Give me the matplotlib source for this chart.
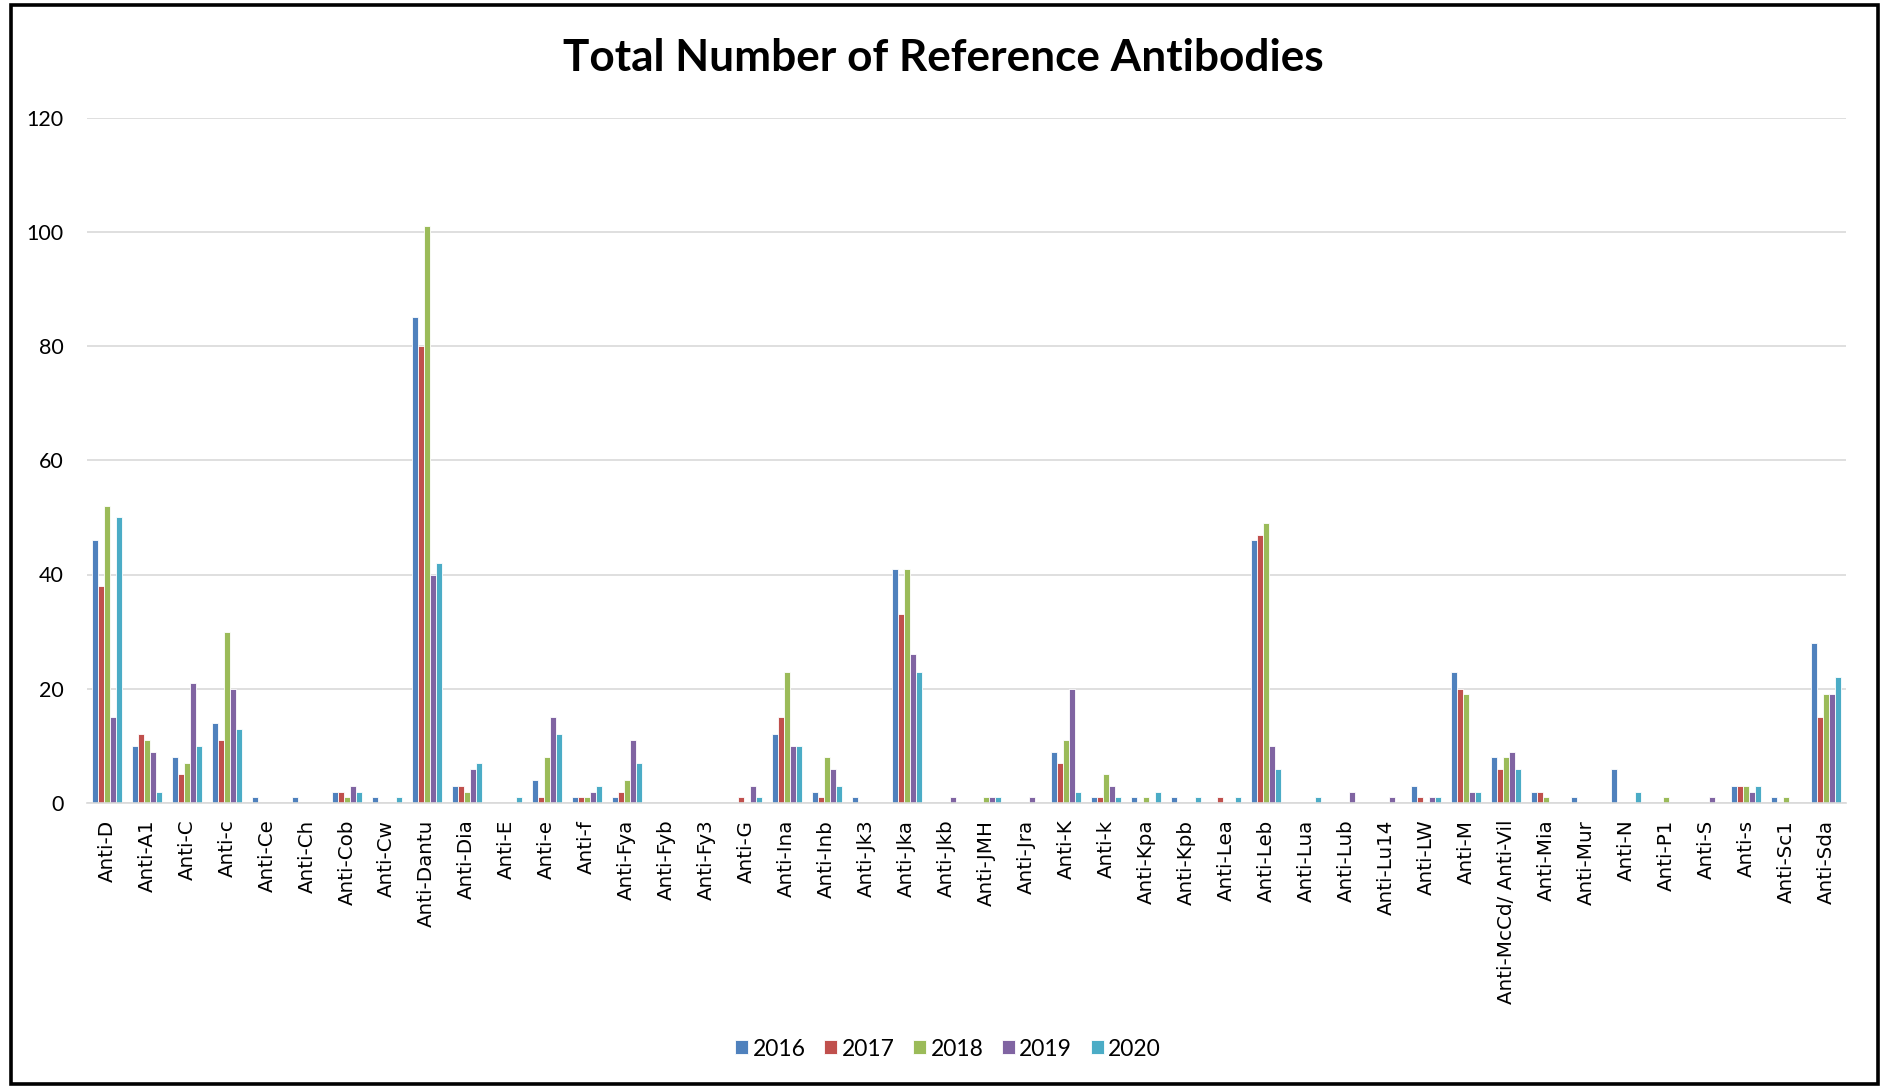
import numpy as np
import matplotlib
matplotlib.use("Agg")
import matplotlib.pyplot as plt
from matplotlib.patches import Rectangle

categories = [
    "Anti-D", "Anti-A1", "Anti-C", "Anti-c", "Anti-Ce", "Anti-Ch", "Anti-Cob",
    "Anti-Cw", "Anti-Dantu", "Anti-Dia", "Anti-E", "Anti-e", "Anti-f", "Anti-Fya",
    "Anti-Fyb", "Anti-Fy3", "Anti-G", "Anti-Ina", "Anti-Inb", "Anti-Jk3", "Anti-Jka",
    "Anti-Jkb", "Anti-JMH", "Anti-Jra", "Anti-K", "Anti-k", "Anti-Kpa", "Anti-Kpb",
    "Anti-Lea", "Anti-Leb", "Anti-Lua", "Anti-Lub", "Anti-Lu14", "Anti-LW", "Anti-M",
    "Anti-McCd/ Anti-Vil", "Anti-Mia", "Anti-Mur", "Anti-N", "Anti-P1", "Anti-S",
    "Anti-s", "Anti-Sc1", "Anti-Sda",
]

years = ["2016", "2017", "2018", "2019", "2020"]

y2016 = [46, 10, 8, 14, 1, 1, 2, 1, 85, 3, 0, 4, 1, 1, 0, 0, 0, 12, 2, 1, 41, 0,
         0, 0, 9, 1, 1, 1, 0, 46, 0, 0, 0, 3, 23, 8, 2, 1, 6, 0, 0, 3, 1, 28]
y2017 = [38, 12, 5, 11, 0, 0, 2, 0, 80, 3, 0, 1, 1, 2, 0, 0, 1, 15, 1, 0, 33, 0,
         0, 0, 7, 1, 0, 0, 1, 47, 0, 0, 0, 1, 20, 6, 2, 0, 0, 0, 0, 3, 0, 15]
y2018 = [52, 11, 7, 30, 0, 0, 1, 0, 101, 2, 0, 8, 1, 4, 0, 0, 0, 23, 8, 0, 41, 0,
         1, 0, 11, 5, 1, 0, 0, 49, 0, 0, 0, 0, 19, 8, 1, 0, 0, 1, 0, 3, 1, 19]
y2019 = [15, 9, 21, 20, 0, 0, 3, 0, 40, 6, 0, 15, 2, 11, 0, 0, 3, 10, 6, 0, 26, 1,
         1, 1, 20, 3, 0, 0, 0, 10, 0, 2, 1, 1, 2, 9, 0, 0, 0, 0, 1, 2, 0, 19]
y2020 = [50, 2, 10, 13, 0, 0, 2, 1, 42, 7, 1, 12, 3, 7, 0, 0, 1, 10, 3, 0, 23, 0,
         1, 0, 2, 1, 2, 1, 1, 6, 1, 0, 0, 1, 2, 6, 0, 0, 2, 0, 0, 3, 0, 22]

series = [y2016, y2017, y2018, y2019, y2020]
colors = ["#4F81BD", "#C0504D", "#9BBB59", "#8064A2", "#4BACC6"]

W, H = 1886, 1086
fig = plt.figure(figsize=(W / 100, H / 100), dpi=100)
fig.patch.set_facecolor("white")

ax = fig.add_axes([87 / W, 1 - 803 / H, (1846 - 87) / W, (803 - 117.5) / H])

x = np.arange(len(categories))
bw = 0.15
for i, (vals, col, yr) in enumerate(zip(series, colors, years)):
    ax.bar(x + (i - 2) * bw, vals, width=bw, color=col, edgecolor="white",
           linewidth=0.6, label=yr, zorder=3)

ax.set_xlim(-0.5, len(categories) - 0.5)
ax.set_ylim(0, 120)
ax.set_yticks(np.arange(0, 121, 20))
ax.yaxis.grid(True, color="#D9D9D9", linewidth=1.2, zorder=0)
ax.set_axisbelow(True)

for side in ("top", "right", "left"):
    ax.spines[side].set_visible(False)
ax.spines["bottom"].set_color("#D9D9D9")
ax.spines["bottom"].set_linewidth(1.2)
ax.spines["bottom"].set_zorder(4)

ax.set_xticks(x)
ax.set_xticklabels(categories, rotation=90, ha="center", va="top",
                   fontsize=14.3, family="DejaVu Sans")
ax.tick_params(axis="x", length=0, pad=12)
ax.tick_params(axis="y", length=0, pad=17, labelsize=15.5)
for lab in ax.get_yticklabels():
    lab.set_family("Lato")

fig.text(0.5, 1 - 58 / H, "Total Number of Reference Antibodies",
         ha="center", va="center", fontsize=31.8, fontweight="bold", family="Lato")

leg = fig.legend(loc="center", bbox_to_anchor=(948 / W, 1 - 1049 / H), ncol=5,
                 frameon=False, handlelength=0.57, handleheight=0.57,
                 handletextpad=0.2, columnspacing=0.8,
                 prop={"family": "Lato", "size": 16.5})

fig.patches.append(Rectangle((11 / W, 2 / H), (1878 - 11) / W, (1081 - 2) / H,
                             transform=fig.transFigure, fill=False,
                             edgecolor="black", linewidth=2.6))

fig.savefig("out.png", dpi=100, facecolor="white")
